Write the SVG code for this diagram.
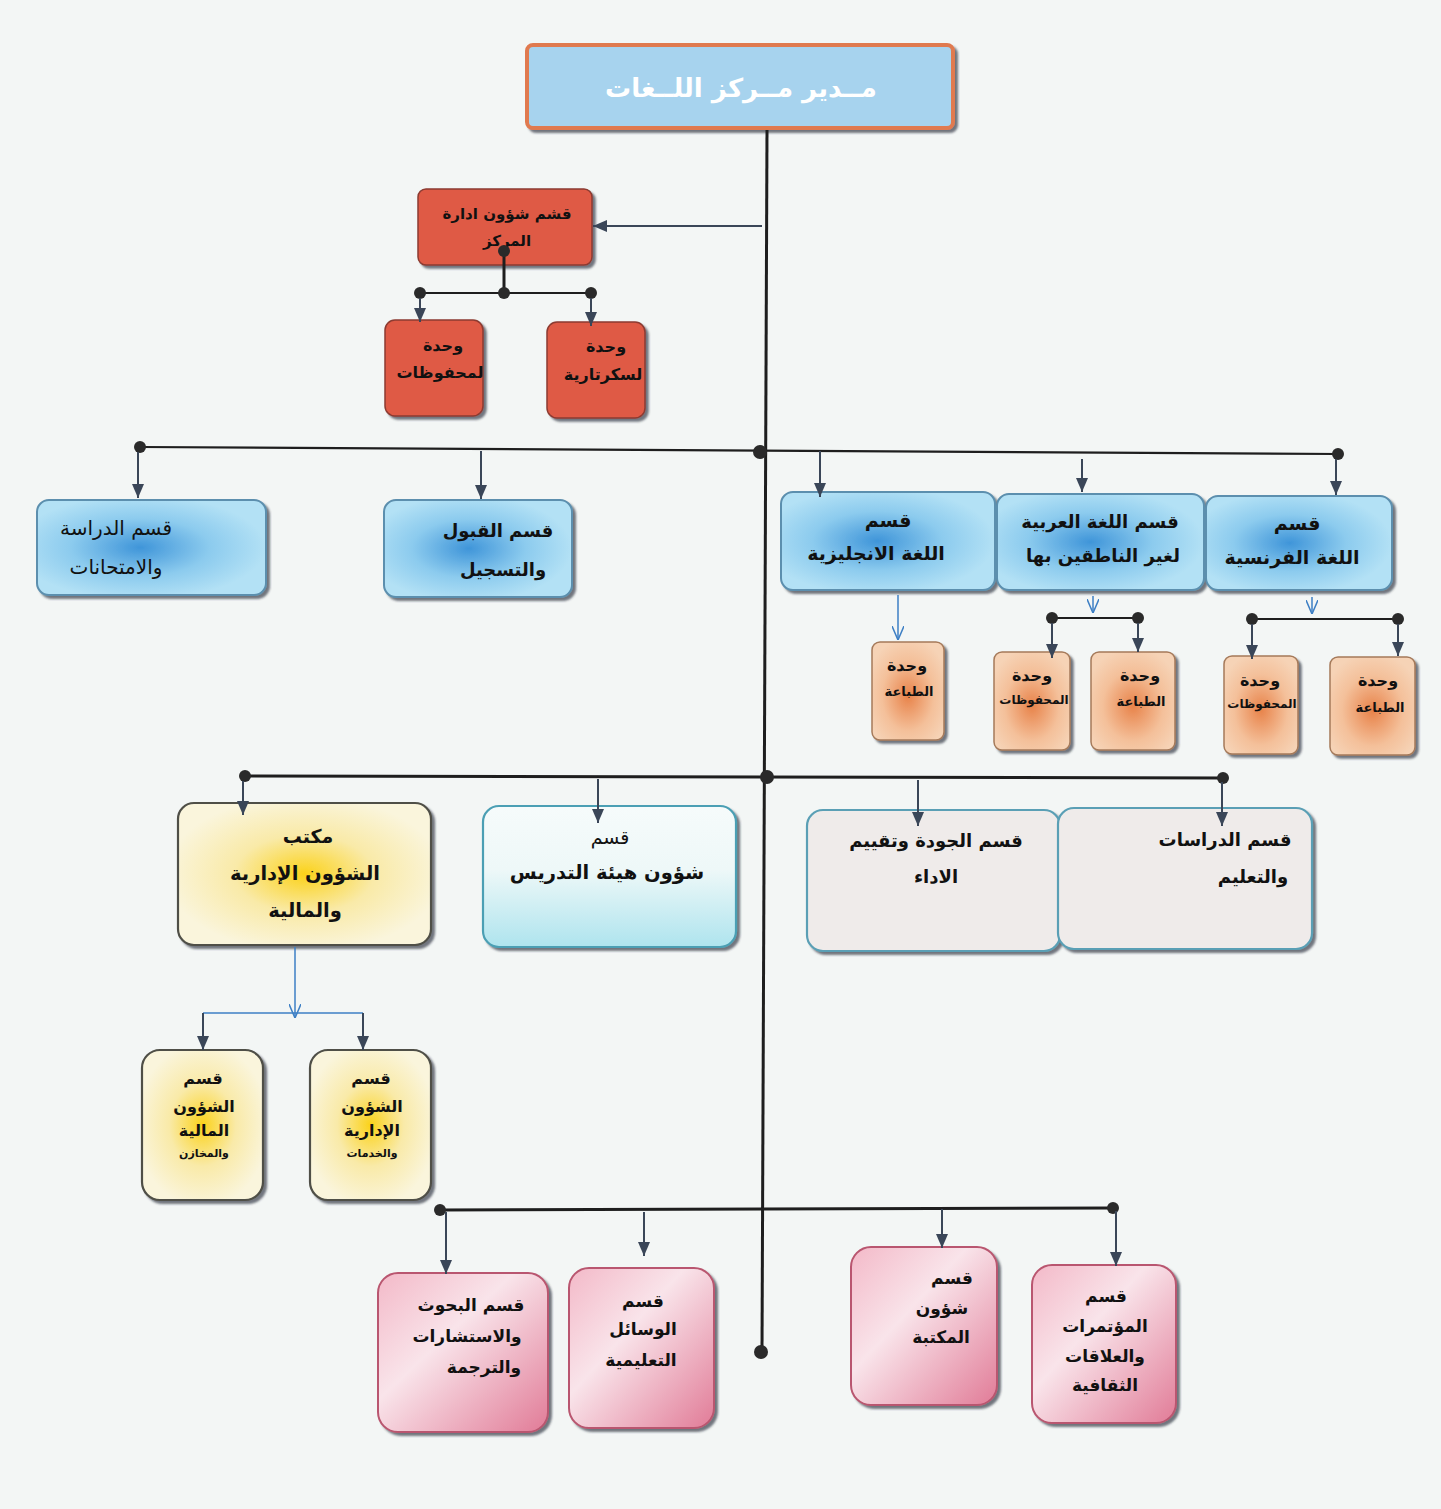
<svg xmlns="http://www.w3.org/2000/svg" width="1441" height="1509" viewBox="0 0 1441 1509">
<defs>
<style>
text{font-family:"DejaVu Sans","Noto Sans",sans-serif;font-weight:bold;fill:#111;text-anchor:middle;direction:rtl}
.ln{stroke:#1e1e1e;stroke-width:2.2;fill:none}
.st{stroke:#3a4658;stroke-width:2;fill:none}
.bl{stroke:#3d7fc4;stroke-width:1.5;fill:none}
.dot{fill:#2a2a2a}
.sh{filter:url(#shadow)}
.blue{fill:url(#gBlue);stroke:#5b8fae;stroke-width:2}
.red{fill:#df5a45;stroke:#8c3b30;stroke-width:1.5}
.org{fill:url(#gOrg);stroke:#a57a5a;stroke-width:1.5}
.yel{fill:url(#gYel);stroke:#4f4f47;stroke-width:2.2}
.cyan{fill:url(#gCyan);stroke:#4b9fb4;stroke-width:2.2}
.gray{fill:#efebea;stroke:#5a9fb5;stroke-width:2.2}
.pink{fill:url(#gPink);stroke:#b9566f;stroke-width:2}
.t20{font-size:20px}
.t19{font-size:19px}
.t18{font-size:18px}
.t17{font-size:17px}
.t16{font-size:16px}
.t15{font-size:15px}
.t13{font-size:13px}
</style>
<filter id="shadow" x="-10%" y="-10%" width="125%" height="125%">
<feDropShadow dx="3" dy="3" stdDeviation="1.2" flood-color="#2a3340" flood-opacity="0.65"/>
</filter>
<radialGradient id="gBlue" cx="0.45" cy="0.5" r="0.55">
<stop offset="0" stop-color="#3f95d9"/>
<stop offset="0.55" stop-color="#8ccbee"/>
<stop offset="1" stop-color="#b3e1f5"/>
</radialGradient>
<radialGradient id="gOrg" cx="0.5" cy="0.55" r="0.6">
<stop offset="0" stop-color="#e8834a"/>
<stop offset="0.6" stop-color="#f4c09a"/>
<stop offset="1" stop-color="#f6d3b6"/>
</radialGradient>
<radialGradient id="gYel" cx="0.5" cy="0.5" r="0.55">
<stop offset="0" stop-color="#fbd21a"/>
<stop offset="0.5" stop-color="#f9eaa8"/>
<stop offset="1" stop-color="#faf5dc"/>
</radialGradient>
<linearGradient id="gCyan" x1="0" y1="0" x2="0" y2="1">
<stop offset="0" stop-color="#f6fbfb"/>
<stop offset="0.45" stop-color="#eef8f8"/>
<stop offset="1" stop-color="#aee4ee"/>
</linearGradient>
<linearGradient id="gPink" x1="0" y1="0" x2="1" y2="1">
<stop offset="0" stop-color="#f3b9c8"/>
<stop offset="0.4" stop-color="#f9e4ea"/>
<stop offset="1" stop-color="#e17b97"/>
</linearGradient>
<marker id="ah" viewBox="0 0 14 12" refX="14" refY="6" markerWidth="14" markerHeight="12" markerUnits="userSpaceOnUse" orient="auto">
<path d="M0,0 L14,6 L0,12 z" fill="#3a4658"/>
</marker>
<marker id="va" viewBox="0 0 14 12" refX="14" refY="6" markerWidth="14" markerHeight="12" markerUnits="userSpaceOnUse" orient="auto">
<path d="M0,0 L14,6 L0,12" fill="none" stroke="#3d7fc4" stroke-width="1.5"/>
</marker>
</defs>
<rect x="0" y="0" width="1441" height="1509" fill="#f3f6f5"/>

<g id="n-director">
<rect x="527" y="45" width="426" height="83" rx="6" fill="#a7d3ee" stroke="#e07a50" stroke-width="4" class="sh"/>
<text x="741" y="97" style="font-size:26px;fill:#ffffff">مــدير مــركز اللــغات</text>
</g>

<g id="n-admin">
<rect x="418" y="189" width="174" height="76" rx="8" class="red sh"/>
<text x="507" y="219" class="t15">قشم شؤون ادارة</text>
<text x="507" y="246" class="t15">المركز</text>
</g>
<g id="n-archive">
<rect x="385" y="320" width="98" height="96" rx="10" class="red sh"/>
<text x="443" y="351" class="t16">وحدة</text>
<text x="440" y="378" class="t16">لمحفوظات</text>
</g>
<g id="n-secretary">
<rect x="547" y="322" width="98" height="96" rx="10" class="red sh"/>
<text x="606" y="352" class="t16">وحدة</text>
<text x="603" y="380" class="t16">لسكرتارية</text>
</g>

<g id="n-exams">
<rect x="37" y="500" width="229" height="95" rx="12" class="blue sh"/>
<text x="116" y="535" class="t20" style="font-weight:normal">قسم الدراسة</text>
<text x="116" y="574" class="t20" style="font-weight:normal">والامتحانات</text>
</g>
<g id="n-admission">
<rect x="384" y="500" width="188" height="97" rx="12" class="blue sh"/>
<text x="498" y="537" class="t18">قسم القبول</text>
<text x="503" y="576" class="t18">والتسجيل</text>
</g>
<g id="n-english">
<rect x="781" y="492" width="214" height="98" rx="12" class="blue sh"/>
<text x="888" y="527" class="t19">قسم</text>
<text x="876" y="560" class="t19">اللغة الانجليزية</text>
</g>
<g id="n-arabic">
<rect x="997" y="494" width="207" height="96" rx="12" class="blue sh"/>
<text x="1100" y="528" class="t18">قسم اللغة العربية</text>
<text x="1103" y="562" class="t18">لغير الناطقين بها</text>
</g>
<g id="n-french">
<rect x="1206" y="496" width="186" height="94" rx="12" class="blue sh"/>
<text x="1297" y="530" class="t19">قسم</text>
<text x="1292" y="564" class="t19">اللغة الفرنسية</text>
</g>

<g id="n-en-print">
<rect x="872" y="642" width="72" height="98" rx="8" class="org sh"/>
<text x="907" y="671" class="t16">وحدة</text>
<text x="909" y="696" class="t13">الطباعة</text>
</g>
<g id="n-ar-archive">
<rect x="994" y="652" width="76" height="98" rx="8" class="org sh"/>
<text x="1032" y="681" class="t16">وحدة</text>
<text x="1034" y="704" class="t13" style="font-size:12px">المحفوظات</text>
</g>
<g id="n-ar-print">
<rect x="1091" y="652" width="84" height="98" rx="8" class="org sh"/>
<text x="1140" y="681" class="t16">وحدة</text>
<text x="1141" y="706" class="t13">الطباعة</text>
</g>
<g id="n-fr-archive">
<rect x="1224" y="656" width="74" height="98" rx="8" class="org sh"/>
<text x="1260" y="686" class="t16">وحدة</text>
<text x="1262" y="708" class="t13" style="font-size:12px">المحفوظات</text>
</g>
<g id="n-fr-print">
<rect x="1330" y="657" width="85" height="98" rx="8" class="org sh"/>
<text x="1378" y="686" class="t16">وحدة</text>
<text x="1380" y="712" class="t13">الطباعة</text>
</g>

<g id="n-office">
<rect x="178" y="803" width="253" height="142" rx="16" class="yel sh"/>
<text x="308" y="843" class="t19">مكتب</text>
<text x="305" y="880" class="t19" style="font-size:19.5px">الشؤون الإدارية</text>
<text x="305" y="917" class="t19" style="font-size:19.5px">والمالية</text>
</g>
<g id="n-faculty">
<rect x="483" y="806" width="253" height="141" rx="16" class="cyan sh"/>
<text x="610" y="844" class="t19" style="font-weight:normal">قسم</text>
<text x="607" y="879" class="t19" style="font-size:19.5px">شؤون هيئة التدريس</text>
</g>
<g id="n-quality">
<rect x="807" y="810" width="253" height="141" rx="16" class="gray sh"/>
<text x="936" y="847" class="t18">قسم الجودة وتقييم</text>
<text x="936" y="883" class="t18">الاداء</text>
</g>
<g id="n-studies">
<rect x="1058" y="808" width="254" height="141" rx="16" class="gray sh"/>
<text x="1225" y="846" class="t18">قسم الدراسات</text>
<text x="1253" y="883" class="t18">والتعليم</text>
</g>

<g id="n-finance">
<rect x="142" y="1050" width="121" height="150" rx="18" class="yel sh"/>
<text x="203" y="1084" class="t16">قسم</text>
<text x="204" y="1112" class="t16">الشؤون</text>
<text x="204" y="1136" class="t16">المالية</text>
<text x="204" y="1157" class="t13" style="font-size:11px">والمخازن</text>
</g>
<g id="n-services">
<rect x="310" y="1050" width="121" height="150" rx="18" class="yel sh"/>
<text x="371" y="1084" class="t16">قسم</text>
<text x="372" y="1112" class="t16">الشؤون</text>
<text x="372" y="1136" class="t16">الإدارية</text>
<text x="372" y="1157" class="t13" style="font-size:11px">والخدمات</text>
</g>

<g id="n-research">
<rect x="378" y="1273" width="170" height="159" rx="20" class="pink sh"/>
<text x="471" y="1311" class="t17">قسم البحوث</text>
<text x="467" y="1342" class="t17">والاستشارات</text>
<text x="484" y="1373" class="t17">والترجمة</text>
</g>
<g id="n-media">
<rect x="569" y="1268" width="145" height="160" rx="20" class="pink sh"/>
<text x="643" y="1307" class="t17">قسم</text>
<text x="643" y="1335" class="t17">الوسائل</text>
<text x="641" y="1366" class="t17">التعليمية</text>
</g>
<g id="n-library">
<rect x="851" y="1247" width="146" height="158" rx="20" class="pink sh"/>
<text x="952" y="1284" class="t17">قسم</text>
<text x="942" y="1314" class="t17">شؤون</text>
<text x="941" y="1343" class="t17">المكتبة</text>
</g>
<g id="n-conferences">
<rect x="1032" y="1265" width="144" height="158" rx="20" class="pink sh"/>
<text x="1106" y="1302" class="t17">قسم</text>
<text x="1105" y="1332" class="t17">المؤتمرات</text>
<text x="1105" y="1362" class="t17">والعلاقات</text>
<text x="1105" y="1391" class="t17">الثقافية</text>
</g>

<g id="connectors">
<line class="ln" x1="767" y1="130" x2="762" y2="1352" style="stroke-width:3"/>
<circle class="dot" cx="761" cy="1352" r="7"/>
<line class="st" x1="762" y1="226" x2="593" y2="226" marker-end="url(#ah)"/>
<line class="ln" x1="504" y1="251" x2="504" y2="293" style="stroke-width:3"/>
<line class="ln" x1="420" y1="293" x2="591" y2="293"/>
<circle class="dot" cx="504" cy="251" r="6"/>
<circle class="dot" cx="420" cy="293" r="6"/>
<circle class="dot" cx="504" cy="293" r="6"/>
<circle class="dot" cx="591" cy="293" r="6"/>
<line class="st" x1="420" y1="298" x2="420" y2="322" marker-end="url(#ah)"/>
<line class="st" x1="591" y1="298" x2="591" y2="326" marker-end="url(#ah)"/>
<line class="ln" x1="140" y1="447" x2="1338" y2="454"/>
<circle class="dot" cx="140" cy="447" r="6"/>
<circle class="dot" cx="760" cy="452" r="7"/>
<circle class="dot" cx="1338" cy="454" r="6"/>
<line class="st" x1="138" y1="452" x2="138" y2="498" marker-end="url(#ah)"/>
<line class="st" x1="481" y1="451" x2="481" y2="499" marker-end="url(#ah)"/>
<line class="st" x1="820" y1="451" x2="820" y2="497" marker-end="url(#ah)"/>
<line class="st" x1="1082" y1="459" x2="1082" y2="492" marker-end="url(#ah)"/>
<line class="st" x1="1336" y1="459" x2="1336" y2="495" marker-end="url(#ah)"/>
<line class="bl" x1="898" y1="595" x2="898" y2="640" marker-end="url(#va)"/>
<line class="bl" x1="1093" y1="596" x2="1093" y2="613" marker-end="url(#va)"/>
<line class="ln" x1="1052" y1="618" x2="1138" y2="618"/>
<circle class="dot" cx="1052" cy="618" r="6"/>
<circle class="dot" cx="1138" cy="618" r="6"/>
<line class="st" x1="1052" y1="623" x2="1052" y2="658" marker-end="url(#ah)"/>
<line class="st" x1="1138" y1="623" x2="1138" y2="652" marker-end="url(#ah)"/>
<line class="bl" x1="1312" y1="597" x2="1312" y2="614" marker-end="url(#va)"/>
<line class="ln" x1="1252" y1="619" x2="1398" y2="619"/>
<circle class="dot" cx="1252" cy="619" r="6"/>
<circle class="dot" cx="1398" cy="619" r="6"/>
<line class="st" x1="1252" y1="624" x2="1252" y2="659" marker-end="url(#ah)"/>
<line class="st" x1="1398" y1="624" x2="1398" y2="656" marker-end="url(#ah)"/>
<line class="ln" x1="245" y1="776" x2="1223" y2="778" style="stroke-width:3"/>
<circle class="dot" cx="245" cy="776" r="6"/>
<circle class="dot" cx="767" cy="777" r="7"/>
<circle class="dot" cx="1223" cy="778" r="6"/>
<line class="st" x1="243" y1="781" x2="243" y2="815" marker-end="url(#ah)"/>
<line class="st" x1="598" y1="779" x2="598" y2="823" marker-end="url(#ah)"/>
<line class="st" x1="918" y1="780" x2="918" y2="826" marker-end="url(#ah)"/>
<line class="st" x1="1222" y1="782" x2="1222" y2="826" marker-end="url(#ah)"/>
<line class="bl" x1="295" y1="947" x2="295" y2="1018" marker-end="url(#va)"/>
<line class="bl" x1="203" y1="1013" x2="363" y2="1013"/>
<line class="st" x1="203" y1="1013" x2="203" y2="1050" marker-end="url(#ah)"/>
<line class="st" x1="363" y1="1013" x2="363" y2="1050" marker-end="url(#ah)"/>
<line class="ln" x1="440" y1="1210" x2="1113" y2="1208" style="stroke-width:3"/>
<circle class="dot" cx="440" cy="1210" r="6"/>
<circle class="dot" cx="1113" cy="1208" r="6"/>
<line class="st" x1="446" y1="1212" x2="446" y2="1274" marker-end="url(#ah)"/>
<line class="st" x1="644" y1="1212" x2="644" y2="1256" marker-end="url(#ah)"/>
<line class="st" x1="942" y1="1209" x2="942" y2="1248" marker-end="url(#ah)"/>
<line class="st" x1="1116" y1="1211" x2="1116" y2="1266" marker-end="url(#ah)"/>
</g>
</svg>
